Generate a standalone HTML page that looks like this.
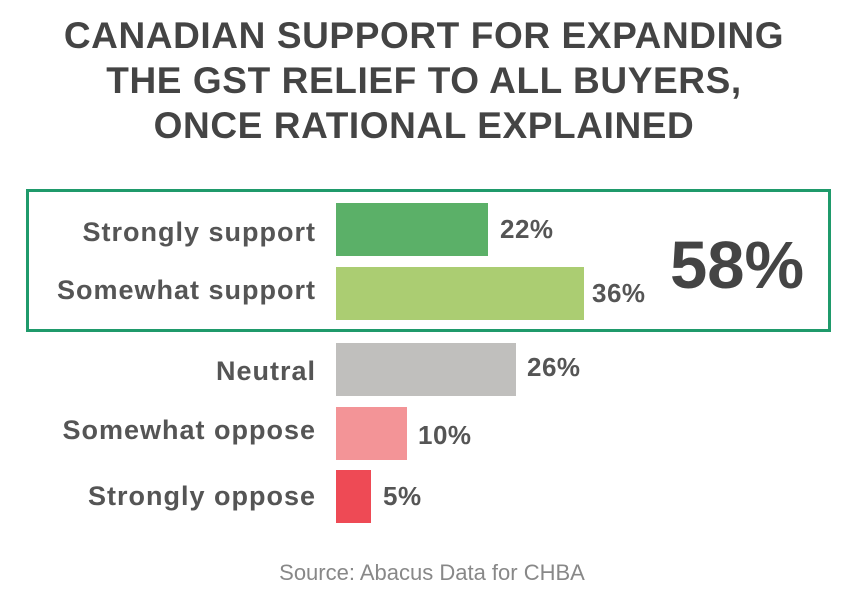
<!DOCTYPE html>
<html><head><meta charset="utf-8"><style>
body{margin:0;background:#fff;width:848px;height:614px;overflow:hidden;position:relative;font-family:"Liberation Sans",sans-serif;color:#4a4a4a}
.t{position:absolute;left:0;width:848px;text-align:center;font-weight:bold;font-size:37px;letter-spacing:0.6px;color:#444;line-height:45px;top:13px}
.box{position:absolute;left:26px;top:189px;width:799px;height:137px;border:3px solid #1f9a6b}
.bar{position:absolute;left:336px;height:53px}
.lab{position:absolute;right:532px;font-size:27px;font-weight:bold;letter-spacing:1px;color:#555;line-height:53px}
.val{position:absolute;font-size:26px;font-weight:bold;letter-spacing:0.5px;color:#555;line-height:53px}
.big{position:absolute;left:670px;top:226px;font-size:67px;font-weight:bold;color:#444;line-height:80px}
.src{position:absolute;left:0;width:864px;text-align:center;top:560px;font-size:22px;color:#888}
</style></head><body>
<div class="t">CANADIAN SUPPORT FOR EXPANDING<br>THE GST RELIEF TO ALL BUYERS,<br>ONCE RATIONAL EXPLAINED</div>
<div class="box"></div>
<div class="lab" style="top:206px">Strongly support</div>
<div class="bar" style="top:203px;width:152px;background:#5bb068"></div>
<div class="val" style="top:203px;left:500px">22%</div>
<div class="lab" style="top:264px">Somewhat support</div>
<div class="bar" style="top:267px;width:248px;background:#abcd72"></div>
<div class="val" style="top:267px;left:592px">36%</div>
<div class="lab" style="top:345px">Neutral</div>
<div class="bar" style="top:343px;width:180px;background:#c0bfbd"></div>
<div class="val" style="top:341px;left:527px">26%</div>
<div class="lab" style="top:404px">Somewhat oppose</div>
<div class="bar" style="top:407px;width:71px;background:#f39497"></div>
<div class="val" style="top:409px;left:418px">10%</div>
<div class="lab" style="top:470px">Strongly oppose</div>
<div class="bar" style="top:470px;width:35px;background:#ee4a55"></div>
<div class="val" style="top:470px;left:383px">5%</div>
<div class="big">58%</div>
<div class="src">Source: Abacus Data for CHBA</div>
</body></html>
